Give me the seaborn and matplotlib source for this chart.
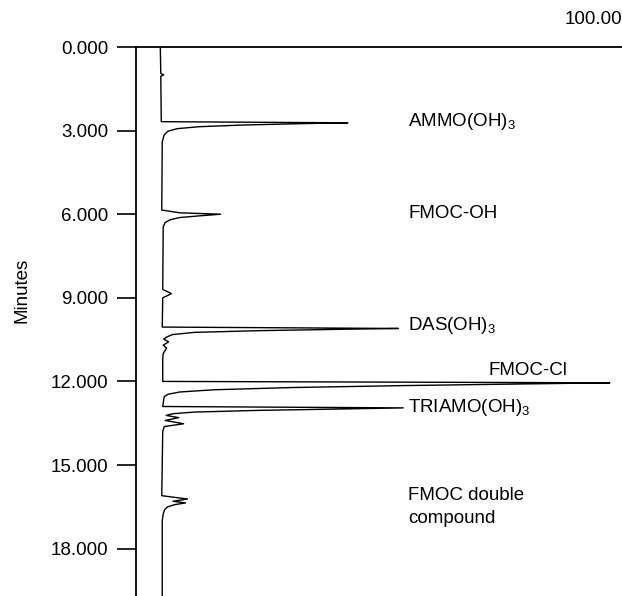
import numpy as np
import pandas as pd
import matplotlib
matplotlib.use("Agg")
import matplotlib.pyplot as plt
import seaborn as sns

# chromatogram trace (retention time in minutes, signal in % of full scale)
time = [0.0, 0.95, 1.0, 1.05, 2.68, 2.72, 2.75, 2.8, 2.86, 2.93, 3.02, 3.15, 3.4,
        5.85, 5.95, 6.0, 6.06, 6.12, 6.2, 6.3, 6.45,
        8.7, 8.85, 9.0,
        10.05, 10.1, 10.13, 10.18, 10.24, 10.32, 10.4, 10.48, 10.58, 10.7, 10.8, 11.0, 11.2,
        12.0, 12.05, 12.09, 12.15, 12.22, 12.3, 12.38, 12.46, 12.55,
        12.9, 12.95, 12.99, 13.04, 13.1, 13.16, 13.22, 13.3, 13.4, 13.52, 13.62, 13.8,
        16.1, 16.22, 16.3, 16.36, 16.42, 16.5, 16.6, 16.75, 17.0, 19.8]
signal = [5.0, 5.1, 5.7, 5.1, 5.2, 43.6, 34.0, 22.0, 13.0, 8.5, 6.6, 5.8, 5.4,
          5.3, 9.0, 17.4, 13.0, 9.0, 7.0, 6.0, 5.6,
          5.5, 7.3, 5.5,
          5.4, 54.0, 42.0, 25.0, 12.0, 7.5, 6.4, 5.7, 6.7, 5.6, 6.3, 5.6, 5.5,
          5.5, 97.5, 80.0, 55.0, 32.0, 16.0, 9.0, 6.6, 5.8,
          5.5, 55.0, 42.0, 25.0, 12.0, 7.5, 6.2, 8.8, 6.0, 9.8, 5.8, 5.5,
          5.3, 10.6, 7.6, 10.2, 8.0, 6.5, 5.9, 5.6, 5.4, 5.4]

peak_names = ["AMMO(OH)$_3$", "FMOC-OH", "DAS(OH)$_3$", "FMOC-Cl",
              "TRIAMO(OH)$_3$", "FMOC double\ncompound"]
label_time = [2.69, 5.99, 10.0, 11.6, 12.94, 16.5]
label_x = [56.0, 56.0, 56.0, 72.6, 56.0, 56.0]

tick_times = [0, 3, 6, 9, 12, 15, 18]
tick_labels = ["0.000", "3.000", "6.000", "9.000", "12.000", "15.000", "18.000"]

sns.set_theme(style="white")
plt.rcParams["font.family"] = ["Liberation Sans", "DejaVu Sans"]
plt.rcParams["mathtext.fontset"] = "custom"
plt.rcParams["mathtext.rm"] = "Liberation Sans"
plt.rcParams["mathtext.it"] = "Liberation Sans"
for key in ["text.color", "axes.labelcolor", "xtick.color", "ytick.color"]:
    plt.rcParams[key] = "black"

df = pd.DataFrame({"time": time, "signal": signal})

fig = plt.figure(figsize=(6.22, 5.96), dpi=100)
ax = fig.add_axes([136 / 622, 0.0, 486 / 622, 1 - 47 / 596])

sns.lineplot(data=df, x="signal", y="time", sort=False, estimator=None,
             color="black", linewidth=1.0, ax=ax)

ax.set_xlim(0, 100)
ax.set_ylim(19.7, 0)

for name, t, x in zip(peak_names, label_time, label_x):
    ax.text(x, t, name, fontsize=13.5, va="center", ha="left", color="black",
            linespacing=1.45)

ax.text(1.0, 1.035, "100.00", transform=ax.transAxes, fontsize=13.5,
        ha="right", va="bottom")

ax.set_yticks(tick_times)
ax.set_yticklabels(tick_labels, fontsize=13.5)
ax.set_xticks([])
ax.set_xlabel("")
ax.set_ylabel("Minutes", fontsize=13.5)
ax.yaxis.set_label_coords(-0.218, 0.557)
ax.tick_params(axis="y", left=True, length=14, width=1.2, color="black", pad=6)

for side in ["right", "bottom"]:
    ax.spines[side].set_visible(False)
for side in ["left", "top"]:
    ax.spines[side].set_color("black")
    ax.spines[side].set_linewidth(1.3)

fig.savefig("out.png", dpi=100)
